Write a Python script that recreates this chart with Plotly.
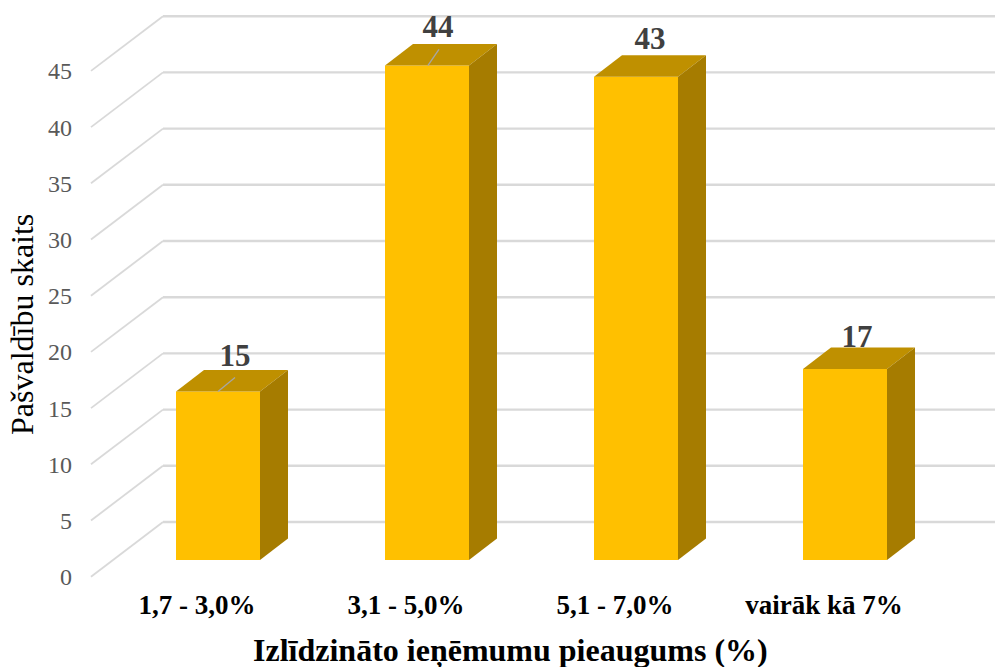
import plotly.graph_objects as go

# ---- data ----
categories = ["1,7 - 3,0%", "3,1 - 5,0%", "5,1 - 7,0%", "vairāk kā 7%"]
values = [15, 44, 43, 17]
y_ticks = [0, 5, 10, 15, 20, 25, 30, 35, 40, 45]
x_title = "Izlīdzināto ieņēmumu pieaugums (%)"
y_title = "Pašvaldību skaits"

# ---- geometry / style (pixel scale of the picture) ----
W, H = 995, 667
L, B_PX = 73, 586
PX_X = 209.0      # pixels per category
PX_Y = 11.24      # pixels per value unit
X0_PX, Y0_PX = 218.0, 560.0
bar_w = 84 / PX_X
depth_x = 28 / PX_X
depth_y = 21.5 / PX_Y
wall_front_x = (91 - X0_PX) / PX_X
wall_back_x = (163 - X0_PX) / PX_X
wall_front_dy = (Y0_PX - 576.7) / PX_Y
wall_back_dy = (Y0_PX - 522.0) / PX_Y
x_range = [(L - X0_PX) / PX_X, (W - X0_PX) / PX_X]
y_range = [(Y0_PX - B_PX) / PX_Y, Y0_PX / PX_Y]
label_shift = -21 / PX_X
# data-label offsets from the middle of the bar's top edge, pixels
label_dx = [17, 11, 14, 12]
label_dy = [33, 36, 35, 30]
# leader lines, (start dx, end dx, end dy) in pixels; None when absent
leaders = [(0, 17, 14), (1, 12, 16), None, None]

FRONT, TOP, SIDE = "#FFC000", "#BF9000", "#A67C00"
GRID = "#D9D9D9"
SERIF = "Liberation Serif"

fig = go.Figure()

# data labels go first so that the top faces cover their lower edge
fig.add_trace(go.Scatter(
    x=[i + dx / PX_X for i, dx in enumerate(label_dx)],
    y=[v + dy / PX_Y for v, dy in zip(values, label_dy)],
    mode="text", text=[str(v) for v in values], textposition="middle center",
    textfont=dict(family=SERIF, size=31, color="#404040", weight="bold"),
    showlegend=False, hoverinfo="skip"))

# front faces
fig.add_trace(go.Bar(x=list(range(len(values))), y=values, width=bar_w,
                     marker=dict(color=FRONT, line=dict(width=0)),
                     showlegend=False, hoverinfo="skip"))

# top and side faces
for i, v in enumerate(values):
    l, r = i - bar_w / 2, i + bar_w / 2
    fig.add_trace(go.Scatter(
        x=[l, r, r + depth_x, l + depth_x, l],
        y=[v, v, v + depth_y, v + depth_y, v],
        mode="lines", fill="toself", fillcolor=TOP, line=dict(width=0),
        showlegend=False, hoverinfo="skip"))
    fig.add_trace(go.Scatter(
        x=[r, r + depth_x, r + depth_x, r, r],
        y=[0, depth_y, v + depth_y, v, 0],
        mode="lines", fill="toself", fillcolor=SIDE, line=dict(width=0),
        showlegend=False, hoverinfo="skip"))

# leader lines
for i, (v, lead) in enumerate(zip(values, leaders)):
    if lead is None:
        continue
    fig.add_trace(go.Scatter(
        x=[i + lead[0] / PX_X, i + lead[1] / PX_X],
        y=[v, v + lead[2] / PX_Y],
        mode="lines", line=dict(color="#A6A6A6", width=1.3),
        showlegend=False, hoverinfo="skip"))

# wall gridlines behind everything
shapes = []
for t in y_ticks:
    shapes.append(dict(type="line", layer="below", xref="x", yref="y",
                       x0=wall_front_x, y0=t + wall_front_dy,
                       x1=wall_back_x, y1=t + wall_back_dy,
                       line=dict(color=GRID, width=1.8)))
    shapes.append(dict(type="line", layer="below", xref="x", yref="y",
                       x0=wall_back_x, y0=t + wall_back_dy,
                       x1=x_range[1], y1=t + wall_back_dy,
                       line=dict(color=GRID, width=2.4)))

annotations = [
    dict(text=x_title, xref="paper", yref="paper", showarrow=False,
         x=(510 - L) / (W - L), y=1 - (650 - 0) / B_PX, xanchor="center", yanchor="middle",
         font=dict(family=SERIF, size=32, color="black", weight="bold")),
    dict(text=y_title, xref="paper", yref="paper", showarrow=False, textangle=-90,
         x=(22 - L) / (W - L), y=1 - 325 / B_PX, xanchor="center", yanchor="middle",
         font=dict(family=SERIF, size=32, color="black")),
]

fig.update_layout(
    width=W, height=H, autosize=False,
    margin=dict(l=L, r=0, t=0, b=H - B_PX, autoexpand=False),
    paper_bgcolor="white", plot_bgcolor="white",
    showlegend=False, shapes=shapes, annotations=annotations,
    xaxis=dict(range=x_range, showgrid=False, zeroline=False, showline=False, ticks="",
               tickvals=[i + label_shift for i in range(len(categories))],
               ticktext=categories,
               tickfont=dict(family=SERIF, size=27, color="black", weight="bold")),
    yaxis=dict(range=y_range, showgrid=False, zeroline=False, showline=False, ticks="",
               tickvals=[t + wall_front_dy for t in y_ticks],
               ticktext=[str(t) for t in y_ticks],
               tickfont=dict(family=SERIF, size=24, color="#595959")),
)

fig.write_html("out.html", config=dict(displayModeBar=False),
               post_script="document.body.style.margin='0';document.documentElement.style.overflow='hidden';")
